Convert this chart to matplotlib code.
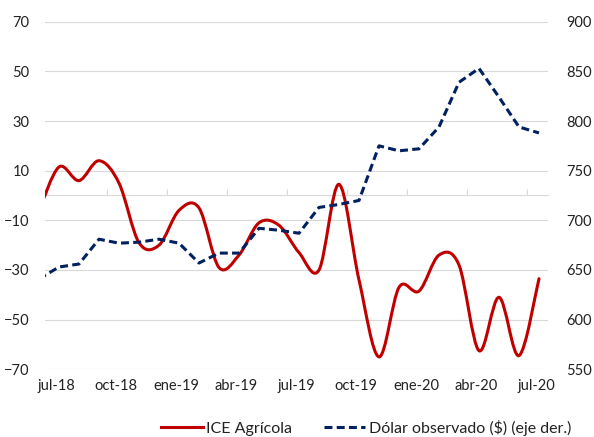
import numpy as np
import matplotlib
matplotlib.use("Agg")
import matplotlib.pyplot as plt
from matplotlib.path import Path
from matplotlib.patches import PathPatch
from matplotlib.lines import Line2D

# ── Data (monthly, x = months since 1-jul-2018; points sit ~0.6 month into each month) ──
months = np.arange(-1, 25) + 0.6          # jun-18 .. jul-20

ice_agricola = [-6, 11.5, 6, 14, 5, -19, -20, -6, -5, -29, -24, -11, -12, -23,
                -30, 4.5, -34, -65, -37, -38.5, -24, -28, -62.5, -41, -64.5, -33.5]

dolar = [641, 653, 656, 681, 677, 678, 681, 677, 657, 667, 667, 692, 690, 687,
         713, 716, 720, 775, 770, 772, 794, 839, 853, 824, 794, 788]

tick_pos = np.arange(0, 25, 3)
tick_labels = ["jul-18", "oct-18", "ene-19", "abr-19", "jul-19",
               "oct-19", "ene-20", "abr-20", "jul-20"]

left_ticks = np.arange(-70, 71, 20)
right_ticks = np.arange(550, 901, 50)

RED = "#C00000"
NAVY = "#002060"
GRID = "#D9D9D9"
TXT = "#222222"

plt.rcParams["font.family"] = ["Lato", "DejaVu Sans"]
plt.rcParams["font.size"] = 10


def smooth_path(xs, ys):
    # Excel-style smoothed line: Catmull-Rom segments as cubic Beziers
    pts = np.column_stack([xs, ys]).astype(float)
    n = len(pts)
    verts = [pts[0]]
    codes = [Path.MOVETO]
    for i in range(n - 1):
        p0 = pts[i - 1] if i > 0 else pts[i]
        p1, p2 = pts[i], pts[i + 1]
        p3 = pts[i + 2] if i + 2 < n else pts[i + 1]
        verts += [p1 + (p2 - p0) / 6, p2 - (p3 - p1) / 6, p2]
        codes += [Path.CURVE4] * 3
    return Path(verts, codes)


fig = plt.figure(figsize=(5.94, 4.37), dpi=100)
ax = fig.add_axes([45 / 594, 1 - 369.3 / 437, 503 / 594, 347.6 / 437])

ax.set_xlim(-0.1, 25.05)
ax.set_ylim(-70, 70)
ax.set_yticks(left_ticks)
ax.grid(axis="y", color=GRID, lw=0.8)
ax.set_axisbelow(True)
for s in ax.spines.values():
    s.set_visible(False)
ax.tick_params(axis="y", length=0, pad=11, labelcolor=TXT, labelsize=10.5)
ax.set_xticks(tick_pos + 0.45, tick_labels)
ax.tick_params(axis="x", length=0, pad=7, labelcolor=TXT, labelsize=10.5)

# horizontal axis line drawn at zero with small tick marks
zero_ax = ax.secondary_xaxis(0.5)
zero_ax.set_xticks(tick_pos, [])
zero_ax.tick_params(length=4, color=GRID, width=0.8)
for s in zero_ax.spines.values():
    s.set_color(GRID)
    s.set_linewidth(0.8)

ax.add_patch(PathPatch(smooth_path(months, ice_agricola), fill=False,
                       edgecolor=RED, lw=2.2, capstyle="round", joinstyle="round"))

ax2 = ax.twinx()
ax2.set_ylim(550, 900)
ax2.set_yticks(right_ticks)
for s in ax2.spines.values():
    s.set_visible(False)
ax2.tick_params(axis="y", length=0, pad=13, labelcolor=TXT, labelsize=10.5)
ax2.plot(months, dolar, color=NAVY, lw=2.2, dashes=(2.6, 1.4), dash_capstyle="butt")

handles = [Line2D([], [], color=RED, lw=2.2),
           Line2D([], [], color=NAVY, lw=2.2, dashes=(2.6, 1.4), dash_capstyle="butt")]
fig.legend(handles, ["ICE Agrícola", "Dólar observado ($) (eje der.)"],
           loc="center", bbox_to_anchor=(366 / 594, 1 - 428 / 437), ncol=2,
           frameon=False, handlelength=2.6, handletextpad=0.2, columnspacing=2.0,
           fontsize=11.5, labelcolor=TXT)

fig.savefig("out.png", dpi=100)
